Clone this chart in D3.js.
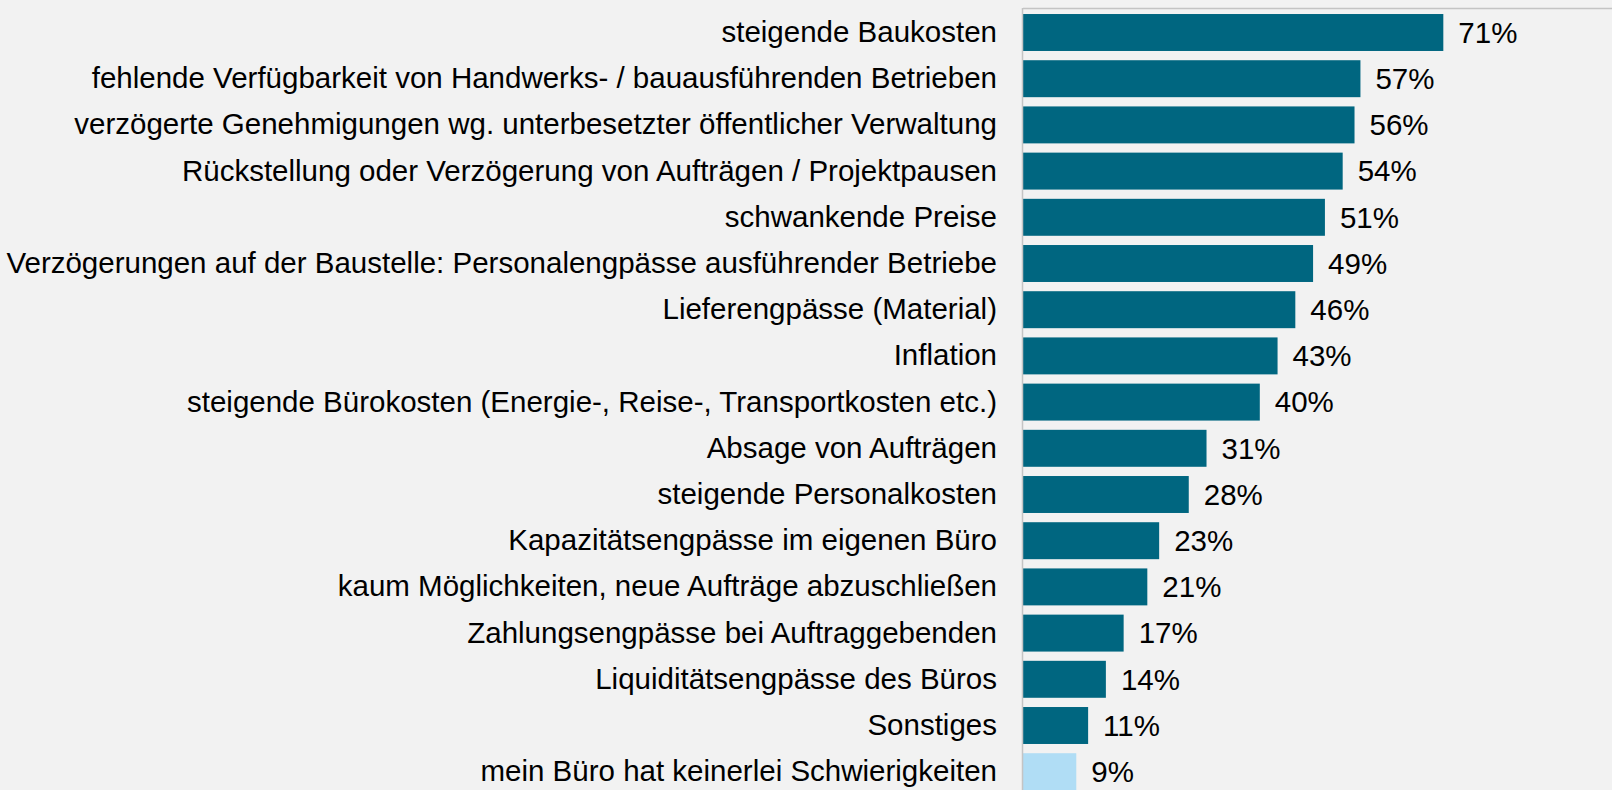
<!DOCTYPE html>
<html>
<head>
<meta charset="utf-8">
<script src="https://cdn.jsdelivr.net/npm/d3@7"></script>
<style>
  html, body { margin: 0; padding: 0; background: #f2f2f2; }
  svg { display: block; font-family: "Liberation Sans", Arial, sans-serif; }
</style>
</head>
<body>
<div id="chart"></div>
<script>
const categories = [
  "steigende Baukosten",
  "fehlende Verfügbarkeit von Handwerks- / bauausführenden Betrieben",
  "verzögerte Genehmigungen wg. unterbesetzter öffentlicher Verwaltung",
  "Rückstellung oder Verzögerung von Aufträgen / Projektpausen",
  "schwankende Preise",
  "Verzögerungen auf der Baustelle: Personalengpässe ausführender Betriebe",
  "Lieferengpässe (Material)",
  "Inflation",
  "steigende Bürokosten (Energie-, Reise-, Transportkosten etc.)",
  "Absage von Aufträgen",
  "steigende Personalkosten",
  "Kapazitätsengpässe im eigenen Büro",
  "kaum Möglichkeiten, neue Aufträge abzuschließen",
  "Zahlungsengpässe bei Auftraggebenden",
  "Liquiditätsengpässe des Büros",
  "Sonstiges",
  "mein Büro hat keinerlei Schwierigkeiten"
];
const values = [71, 57, 56, 54, 51, 49, 46, 43, 40, 31, 28, 23, 21, 17, 14, 11, 9];
const noneCategory = "mein Büro hat keinerlei Schwierigkeiten";

const width = 1612,
  height = 790;
const svg = d3.select("#chart").append("svg").attr("width", width).attr("height", height);

svg.append("rect").attr("width", width).attr("height", height).attr("fill", "#f2f2f2");

const data = categories.map((c, i) => ({ cat: c, val: values[i] }));

// x: percent -> pixels, y: one band per category
const x = d3.scaleLinear().domain([0, 100]).range([1023, 1615]);
const y = d3.scaleBand().domain(categories).range([9.4, 794.8]).paddingInner(0.2).paddingOuter(0.1);

// plot frame (top + left edge only visible)
svg.append("line")
  .attr("x1", x(0)).attr("x2", width)
  .attr("y1", 8.5).attr("y2", 8.5)
  .attr("stroke", "#c4c4c4").attr("stroke-width", 1.5);

svg.append("g")
  .selectAll("rect")
  .data(data)
  .join("rect")
  .attr("x", x(0))
  .attr("y", d => y(d.cat))
  .attr("width", d => x(d.val) - x(0))
  .attr("height", y.bandwidth())
  .attr("fill", d => d.cat === noneCategory ? "#b0ddf5" : "#006680");

const yAxis = d3.axisLeft(y).tickSize(0).tickPadding(26);
const gy = svg.append("g").attr("transform", `translate(${x(0)},0)`).call(yAxis);
gy.select(".domain").remove();
gy.selectAll("text")
  .attr("font-size", "29.5px")
  .attr("font-family", "'Liberation Sans', Arial, sans-serif")
  .attr("fill", "#000");

svg.append("line")
  .attr("x1", x(0) - 0.5).attr("x2", x(0) - 0.5)
  .attr("y1", 8).attr("y2", height)
  .attr("stroke", "#c4c4c4").attr("stroke-width", 1.5);

svg.append("g")
  .selectAll("text")
  .data(data)
  .join("text")
  .attr("x", d => x(d.val) + 15)
  .attr("y", d => y(d.cat) + y.bandwidth() / 2)
  .attr("dy", "0.35em")
  .attr("font-size", "29.5px")
  .attr("fill", "#000")
  .text(d => d.val + "%");
</script>
</body>
</html>
